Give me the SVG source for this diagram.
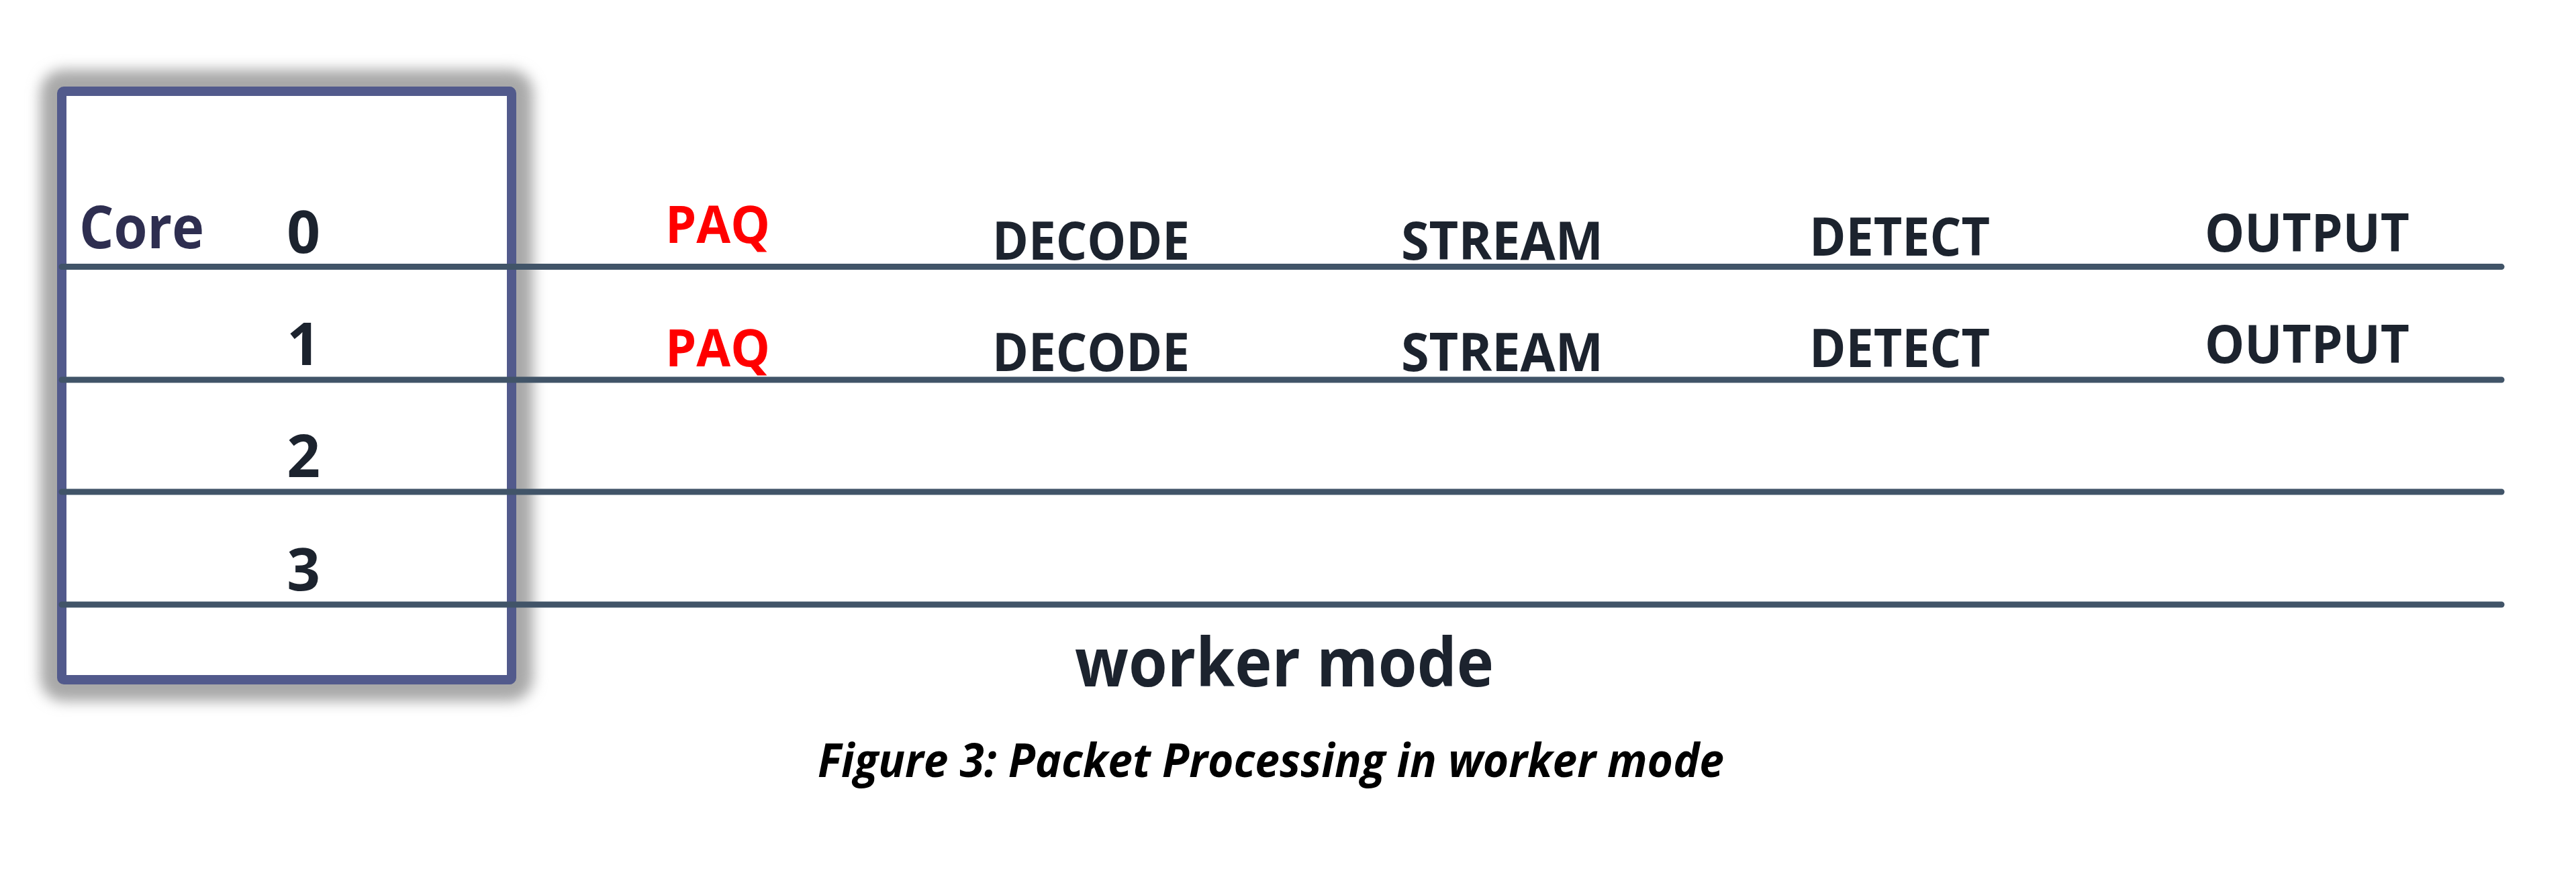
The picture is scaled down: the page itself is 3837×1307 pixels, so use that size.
<svg xmlns="http://www.w3.org/2000/svg" width="3837" height="1307" viewBox="0 0 3837 1307">
<defs>
<filter id="glow" x="-20%" y="-20%" width="140%" height="140%">
<feGaussianBlur stdDeviation="10"/>
</filter>
</defs>
<style>
text{font-family:"Open Sans","Noto Sans","DejaVu Sans",sans-serif;font-weight:bold}
.lbl{font-size:78px;fill:#1c232e}
.paq{font-size:77px;fill:#ff0000}
.num{font-size:87px;fill:#1c232e;text-anchor:middle}
.lane{stroke:#415468;stroke-width:9;stroke-linecap:round;fill:none}
</style>
<rect width="3837" height="1307" fill="#ffffff"/>
<g id="core-box">
<rect x="92" y="136" width="670" height="877" rx="3" fill="none" stroke="#a8a8a8" stroke-width="64" filter="url(#glow)"/>
<rect x="92" y="136" width="670" height="877" rx="3" fill="#ffffff" stroke="#525a8c" stroke-width="14"/>
<text x="118" y="370" font-size="87" fill="#2e2e50" textLength="186" lengthAdjust="spacingAndGlyphs">Core</text>
</g>
<g id="lanes">
<line class="lane" x1="92" y1="397.6" x2="3726" y2="397.6"/>
<line class="lane" x1="92" y1="566" x2="3726" y2="566"/>
<line class="lane" x1="92" y1="733" x2="3726" y2="733"/>
<line class="lane" x1="92" y1="901" x2="3726" y2="901"/>
</g>
<g id="core0">
<text class="num" x="452" y="377">0</text>
<text class="paq" x="991" y="361.5" textLength="156" lengthAdjust="spacingAndGlyphs">PAQ</text>
<text class="lbl" x="1478" y="387.3" textLength="294" lengthAdjust="spacingAndGlyphs">DECODE</text>
<text class="lbl" x="2087" y="387.3" textLength="301" lengthAdjust="spacingAndGlyphs">STREAM</text>
<text class="lbl" x="2695" y="381.3" textLength="269" lengthAdjust="spacingAndGlyphs">DETECT</text>
<text class="lbl" x="3284" y="374.6" textLength="305" lengthAdjust="spacingAndGlyphs">OUTPUT</text>
</g>
<g id="core1">
<text class="num" x="452" y="544">1</text>
<text class="paq" x="991" y="545.7" textLength="156" lengthAdjust="spacingAndGlyphs">PAQ</text>
<text class="lbl" x="1478" y="553" textLength="294" lengthAdjust="spacingAndGlyphs">DECODE</text>
<text class="lbl" x="2087" y="553" textLength="301" lengthAdjust="spacingAndGlyphs">STREAM</text>
<text class="lbl" x="2695" y="547" textLength="269" lengthAdjust="spacingAndGlyphs">DETECT</text>
<text class="lbl" x="3284" y="541.4" textLength="305" lengthAdjust="spacingAndGlyphs">OUTPUT</text>
</g>
<g id="core2">
<text class="num" x="452" y="711">2</text>
</g>
<g id="core3">
<text class="num" x="452" y="880">3</text>
</g>
<g id="title">
<text x="1601" y="1023" font-size="100" fill="#1c232e" textLength="624" lengthAdjust="spacingAndGlyphs">worker mode</text>
</g>
<g id="caption">
<text x="1218" y="1158" font-size="70" font-style="italic" fill="#000000" textLength="1350" lengthAdjust="spacingAndGlyphs">Figure 3: Packet Processing in worker mode</text>
</g>
</svg>
